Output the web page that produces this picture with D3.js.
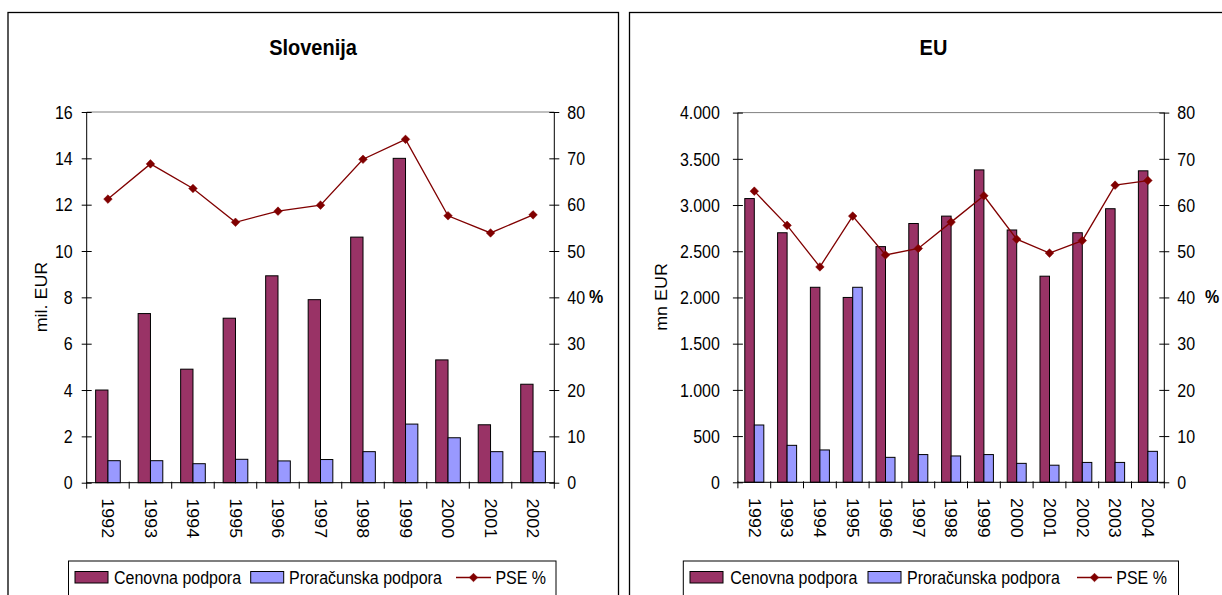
<!DOCTYPE html>
<html><head><meta charset="utf-8">
<script src="https://cdn.jsdelivr.net/npm/d3@7"></script>
<style>
html,body{margin:0;padding:0;background:#fff;}
svg{display:block;font-family:"Liberation Sans",Arial,sans-serif;}
</style></head>
<body>
<svg id="c" width="1222" height="595"></svg>
<script>
// ---- data ----
const yearsSI = ["1992","1993","1994","1995","1996","1997","1998","1999","2000","2001","2002"];
const cenovnaSI = [4.0,7.3,4.9,7.1,8.93,7.9,10.6,14.0,5.3,2.5,4.25];
const proracunskaSI = [0.95,0.95,0.82,1.01,0.94,1.0,1.34,2.53,1.94,1.34,1.34];
const pseSI = [61.2,68.8,63.5,56.2,58.6,59.9,69.8,74.1,57.6,53.9,57.8];

const yearsEU = ["1992","1993","1994","1995","1996","1997","1998","1999","2000","2001","2002","2003","2004"];
const cenovnaEU = [3070,2700,2110,2000,2550,2800,2880,3380,2730,2230,2700,2960,3370];
const proracunskaEU = [620,400,350,2110,270,300,285,300,205,185,215,215,335];
const pseEU = [63.0,55.6,46.6,57.6,49.2,50.6,56.3,62.0,52.6,49.6,52.3,64.3,65.3];

const leftTicksSI = [0,2,4,6,8,10,12,14,16];
const leftTicksEU = [0,500,1000,1500,2000,2500,3000,3500,4000];
const rightTicks = [0,10,20,30,40,50,60,70,80];
const seriesNames = ["Cenovna podpora","Proračunska podpora","PSE %"];

const C_CEN = "#993366", C_PRO = "#9999FF", C_LINE = "#800000";
const SY = 1.12; // vertical text stretch of the reference

const svg = d3.select("#c");

function txt(g, x, y, s, o) {
  o = o || {};
  const t = g.append("text")
    .attr("transform", `translate(${x},${y}) scale(1,${SY})` + (o.rot ? ` rotate(${o.rot})` : ""))
    .attr("dy", "0.35em")
    .attr("font-size", o.size || 16)
    .attr("font-weight", o.bold ? "bold" : null)
    .attr("text-anchor", o.anchor || "middle")
    .attr("fill", "#000")
    .text(s);
  return t;
}

function diamond(g, cx, cy, r) {
  g.append("path")
    .attr("d", `M${cx},${cy - r}L${cx + r},${cy}L${cx},${cy + r}L${cx - r},${cy}Z`)
    .attr("fill", C_LINE).attr("stroke", C_LINE).attr("stroke-width", 0.5);
}

function panel(cfg) {
  const g = svg.append("g");
  // outer border
  g.append("rect").attr("x", cfg.bx0).attr("y", 12.5)
    .attr("width", cfg.bx1 - cfg.bx0).attr("height", 700)
    .attr("fill", "#fff").attr("stroke", "#000").attr("stroke-width", 1.3);

  txt(g, cfg.titleX, 47, cfg.title, {size: 20, bold: true});

  const x = d3.scaleBand().domain(cfg.years).range([cfg.x0, cfg.x1]).paddingInner(0).paddingOuter(0);
  const bw = x.bandwidth();
  const xi = d3.scaleBand().domain(["c", "p"]).range([bw * 0.21, bw * 0.79]).padding(0);
  const y = d3.scaleLinear().domain([0, cfg.yMax]).range([cfg.y0, cfg.y1]);
  const y2 = d3.scaleLinear().domain([0, 80]).range([cfg.y0, cfg.y1]);

  // plot area top border
  g.append("line").attr("x1", cfg.x0).attr("x2", cfg.x1).attr("y1", cfg.y1).attr("y2", cfg.y1)
    .attr("stroke", "#808080").attr("stroke-width", 1);

  // bars
  const bars = g.append("g");
  cfg.years.forEach((yr, i) => {
    bars.append("rect").attr("x", x(yr) + xi("c")).attr("width", xi.bandwidth())
      .attr("y", y(cfg.cen[i])).attr("height", cfg.y0 - y(cfg.cen[i]))
      .attr("fill", C_CEN).attr("stroke", "#000").attr("stroke-width", 1);
    bars.append("rect").attr("x", x(yr) + xi("p")).attr("width", xi.bandwidth())
      .attr("y", y(cfg.pro[i])).attr("height", cfg.y0 - y(cfg.pro[i]))
      .attr("fill", C_PRO).attr("stroke", "#000").attr("stroke-width", 1);
  });

  // axes
  const ax = g.append("g").attr("transform", `translate(${cfg.x0},0)`)
    .call(d3.axisLeft(y).tickValues(cfg.leftTicks).tickSize(5).tickSizeInner(5).tickFormat(cfg.fmt));
  ax.selectAll(".tick line").attr("x2", 5).attr("x1", -5).attr("stroke", "#000");
  ax.select(".domain").attr("d", `M0,${cfg.y0}V${cfg.y1}`).attr("stroke", "#000");
  ax.selectAll(".tick text").attr("x", -cfg.lOff).attr("dy", "0.35em")
    .attr("transform", `scale(1,${SY})`).attr("font-size", 16).attr("font-family", null).attr("fill", "#000");

  const ay = g.append("g").attr("transform", `translate(${cfg.x1},0)`)
    .call(d3.axisRight(y2).tickValues(rightTicks).tickSize(5));
  ay.selectAll(".tick line").attr("x1", -5).attr("x2", 5).attr("stroke", "#000");
  ay.select(".domain").attr("d", `M0,${cfg.y0}V${cfg.y1}`).attr("stroke", "#000");
  ay.selectAll(".tick text").attr("x", 13).attr("dy", "0.35em")
    .attr("transform", `scale(1,${SY})`).attr("font-size", 16).attr("font-family", null).attr("fill", "#000");

  const axb = g.append("g").attr("transform", `translate(0,${cfg.y0})`)
    .call(d3.axisBottom(x).tickSize(6).tickValues([]));
  axb.select(".domain").attr("d", `M${cfg.x0},0H${cfg.x1}`).attr("stroke", "#000");
  // category separators (Excel-style between-category ticks)
  const sep = cfg.years.map(d => x(d)).concat([cfg.x1]);
  axb.selectAll(".sep").data(sep).enter().append("line")
    .attr("x1", d => d).attr("x2", d => d).attr("y1", -1).attr("y2", 6).attr("stroke", "#000");
  axb.selectAll(".yl").data(cfg.years).enter().append("text")
    .attr("transform", d => `translate(${x(d) + bw / 2},0) scale(1,${SY}) rotate(90)`)
    .attr("x", 14).attr("dy", "0.35em").attr("text-anchor", "start")
    .attr("font-size", 16).attr("fill", "#000").text(d => d);

  // PSE line
  const line = d3.line().x((d, i) => x(cfg.years[i]) + bw / 2).y(d => y2(d));
  g.append("path").datum(cfg.pse).attr("d", line).attr("fill", "none")
    .attr("stroke", C_LINE).attr("stroke-width", 1.3);
  cfg.pse.forEach((v, i) => diamond(g, x(cfg.years[i]) + bw / 2, y2(v), 4.3));

  // axis titles
  txt(g, cfg.yTitleX, 297, cfg.yTitle, {rot: -90});
  txt(g, cfg.pctX, 297, "%", {bold: true, anchor: "start"});

  // legend
  const L = cfg.leg;
  const lg = g.append("g");
  lg.append("rect").attr("x", L.x0).attr("y", 561).attr("width", L.x1 - L.x0).attr("height", 60)
    .attr("fill", "#fff").attr("stroke", "#000").attr("stroke-width", 1);
  lg.append("rect").attr("x", L.s1).attr("y", 571.5).attr("width", 33).attr("height", 11.5)
    .attr("fill", C_CEN).attr("stroke", "#000").attr("stroke-width", 1);
  txt(lg, L.t1, 577.5, seriesNames[0], {anchor: "start"});
  lg.append("rect").attr("x", L.s2).attr("y", 571.5).attr("width", 33).attr("height", 11.5)
    .attr("fill", C_PRO).attr("stroke", "#000").attr("stroke-width", 1);
  txt(lg, L.t2, 577.5, seriesNames[1], {anchor: "start"});
  lg.append("line").attr("x1", L.s3).attr("x2", L.s3 + 35).attr("y1", 577.5).attr("y2", 577.5)
    .attr("stroke", C_LINE).attr("stroke-width", 1.3);
  diamond(lg, L.s3 + 17.5, 577.5, 4.3);
  txt(lg, L.t3, 577.5, seriesNames[2], {anchor: "start"});
}

const fmtEU = d => d3.format(",")(d).replace(/,/g, ".");

panel({
  title: "Slovenija", titleX: 313, bx0: 8, bx1: 618.5,
  years: yearsSI, cen: cenovnaSI, pro: proracunskaSI, pse: pseSI,
  x0: 86.7, x1: 554.3, y0: 482.7, y1: 112, yMax: 16,
  leftTicks: leftTicksSI, fmt: d3.format("d"), lOff: 14,
  yTitle: "mil. EUR", yTitleX: 41, pctX: 589,
  leg: {x0: 68.5, x1: 556, s1: 75, t1: 114, s2: 250.7, t2: 289, s3: 456, t3: 495.4}
});

panel({
  title: "EU", titleX: 933.5, bx0: 629.5, bx1: 1240,
  years: yearsEU, cen: cenovnaEU, pro: proracunskaEU, pse: pseEU,
  x0: 737.9, x1: 1164.3, y0: 482.3, y1: 112.6, yMax: 4000,
  leftTicks: leftTicksEU, fmt: fmtEU, lOff: 18,
  yTitle: "mn EUR", yTitleX: 661, pctX: 1205,
  leg: {x0: 683.3, x1: 1178.5, s1: 690, t1: 730.2, s2: 868, t2: 907, s3: 1077, t3: 1116.3}
});
</script>
</body></html>
